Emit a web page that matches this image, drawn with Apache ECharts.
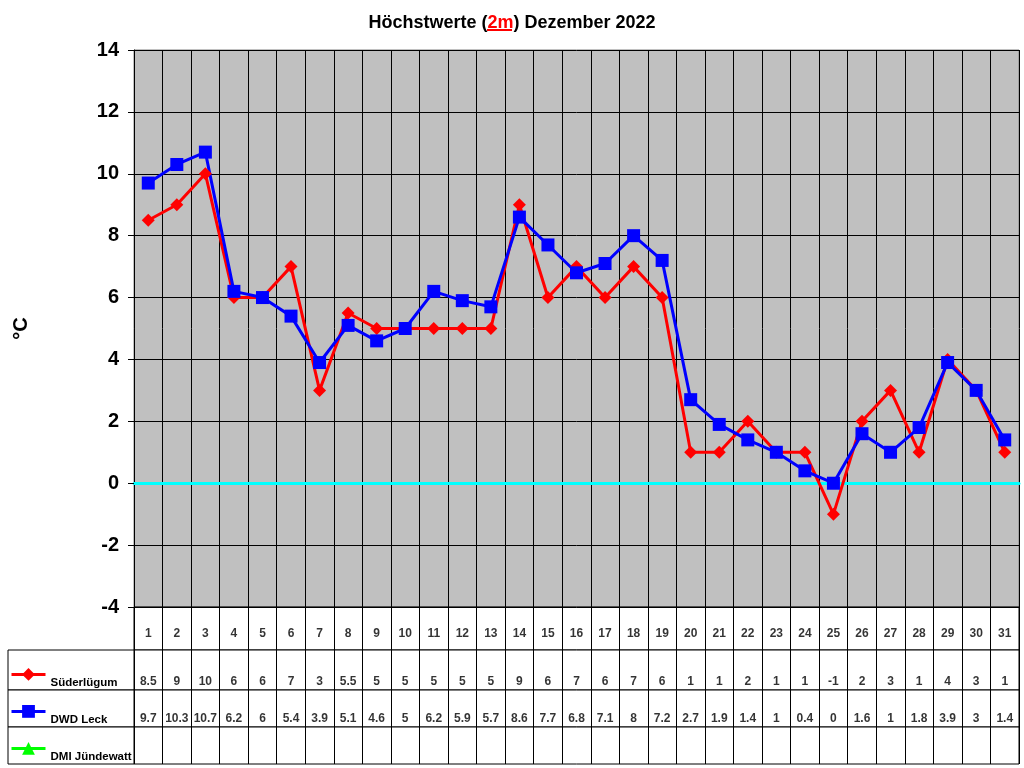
<!DOCTYPE html>
<html>
<head>
<meta charset="utf-8">
<script src="https://cdn.jsdelivr.net/npm/echarts@6/dist/echarts.min.js"></script>
<style>
  html, body { margin: 0; padding: 0; background: #fff; }
  #chart { width: 1024px; height: 768px; }
</style>
</head>
<body>
<div id="chart"></div>
<script>
  var days = ['1', '2', '3', '4', '5', '6', '7', '8', '9', '10', '11', '12', '13', '14', '15', '16',
    '17', '18', '19', '20', '21', '22', '23', '24', '25', '26', '27', '28', '29', '30', '31'];
  var suederluegum = [8.5, 9, 10, 6, 6, 7, 3, 5.5, 5, 5, 5, 5, 5, 9, 6, 7, 6, 7, 6, 1, 1, 2, 1, 1, -1, 2, 3, 1, 4, 3, 1];
  var dwdLeck = [9.7, 10.3, 10.7, 6.2, 6, 5.4, 3.9, 5.1, 4.6, 5, 6.2, 5.9, 5.7, 8.6, 7.7, 6.8, 7.1, 8, 7.2, 2.7, 1.9, 1.4, 1, 0.4, 0, 1.6, 1, 1.8, 3.9, 3, 1.4];
  var dmiJuendewatt = [null, null, null, null, null, null, null, null, null, null, null, null, null, null, null, null,
    null, null, null, null, null, null, null, null, null, null, null, null, null, null, null];
  var seriesNames = ['Süderlügum', 'DWD Leck', 'DMI Jündewatt'];
  var yTicks = { min: -4, max: 14, interval: 2 };

  var font = 'Liberation Sans, Arial, sans-serif';

  // zeilen der datentabelle
  var rows = [
    { top: 607, height: 43, values: days, dy: 5 },
    { top: 650, height: 40, values: suederluegum, dy: 12 },
    { top: 690, height: 37, values: dwdLeck, dy: 10 },
    { top: 727, height: 37, values: dmiJuendewatt, dy: 10 }
  ];

  var grids = [
    { left: 134, top: 50, width: 885, height: 557, show: true,
      backgroundColor: '#c0c0c0', borderColor: '#808080', borderWidth: 1 }
  ];
  var xAxes = [
    { type: 'category', gridIndex: 0, data: days,
      axisLine: { onZero: true, lineStyle: { color: '#00ffff', width: 3 } },
      axisTick: { show: false }, axisLabel: { show: false },
      splitLine: { show: true, interval: 0, lineStyle: { color: '#000', width: 1 } } }
  ];
  var yAxes = [
    { type: 'value', gridIndex: 0, min: yTicks.min, max: yTicks.max, interval: yTicks.interval,
      name: '°C', nameLocation: 'middle', nameGap: 103, nameRotate: 90,
      nameTextStyle: { fontFamily: font, fontWeight: 'bold', fontSize: 20, color: '#000' },
      axisLine: { show: true, lineStyle: { color: '#000', width: 1 } },
      axisTick: { show: true, length: 6, lineStyle: { color: '#000' } },
      axisLabel: { fontFamily: font, fontWeight: 'bold', fontSize: 20, color: '#000', margin: 15 },
      splitLine: { show: true, lineStyle: { color: '#000', width: 1 } } }
  ];

  var series = [
    { name: 'Süderlügum', type: 'line', data: suederluegum, xAxisIndex: 0, yAxisIndex: 0,
      symbol: 'diamond', symbolSize: 13, color: '#ff0000',
      lineStyle: { color: '#ff0000', width: 3 }, itemStyle: { color: '#ff0000' } },
    { name: 'DWD Leck', type: 'line', data: dwdLeck, xAxisIndex: 0, yAxisIndex: 0,
      symbol: 'rect', symbolSize: 13, color: '#0000ff',
      lineStyle: { color: '#0000ff', width: 3 }, itemStyle: { color: '#0000ff' } },
    { name: 'DMI Jündewatt', type: 'line', data: dmiJuendewatt, xAxisIndex: 0, yAxisIndex: 0,
      symbol: 'triangle', symbolSize: 13, color: '#00ff00',
      lineStyle: { color: '#00ff00', width: 3 }, itemStyle: { color: '#00ff00' } }
  ];

  var legends = [];

  rows.forEach(function (row, r) {
    var g = grids.length;
    grids.push({ left: 134, top: row.top, width: 885, height: row.height, show: true,
      backgroundColor: '#fff', borderColor: '#000', borderWidth: 1 });
    xAxes.push({ type: 'category', gridIndex: g, data: days,
      axisLine: { show: false }, axisTick: { show: false }, axisLabel: { show: false },
      splitLine: { show: true, interval: 0, lineStyle: { color: '#000', width: 1 } } });
    yAxes.push({ type: 'value', gridIndex: g, min: 0, max: 1, show: false });
    var data = [];
    for (var i = 0; i < days.length; i++) {
      data.push([i, 0.5, row.values[i] == null ? '' : String(row.values[i])]);
    }
    series.push({ type: 'scatter', xAxisIndex: g, yAxisIndex: g, symbolSize: 1, silent: true,
      itemStyle: { color: 'rgba(0,0,0,0)' },
      label: { show: true, position: 'inside', offset: [0, row.dy], color: '#000',
        fontFamily: font, fontWeight: 'bold', fontSize: 12,
        formatter: function (p) { return p.value[2]; } },
      data: data });
    // legendenspalte links
    if (r > 0) {
      var lg = grids.length;
      grids.push({ left: 8, top: row.top, width: 126, height: row.height, show: true,
        backgroundColor: '#fff', borderColor: '#000', borderWidth: 1 });
      xAxes.push({ type: 'value', gridIndex: lg, show: false });
      yAxes.push({ type: 'value', gridIndex: lg, show: false });
      legends.push({
        data: [seriesNames[r - 1]],
        left: 10,
        top: row.top + row.height - 22,
        padding: 0,
        itemWidth: 34,
        itemHeight: 16,
        lineStyle: { width: 3 },
        formatter: function (n) { return '{t|' + n + '}'; },
        textStyle: {
          fontFamily: font, fontWeight: 'bold', fontSize: 11.5, color: '#000',
          rich: { t: { fontFamily: font, fontWeight: 'bold', fontSize: 11.5, color: '#000',
            padding: [16, 0, 0, 0] } }
        }
      });
    }
  });

  var chart = echarts.init(document.getElementById('chart'));

  var option = {
    backgroundColor: '#fff',
    animation: false,
    title: {
      text: 'Höchstwerte ({r|2m}) Dezember 2022',
      left: 'center',
      top: 9,
      textStyle: {
        fontFamily: font,
        fontWeight: 'bold',
        fontSize: 18,
        color: '#000',
        rich: {
          r: { color: '#ff0000', fontFamily: font, fontWeight: 'bold', fontSize: 18 }
        }
      }
    },
    graphic: [{
      type: 'line',
      shape: { x1: 487, y1: 30, x2: 512, y2: 30 },
      style: { stroke: '#ff0000', lineWidth: 2 }
    }],
    legend: legends,
    grid: grids,
    xAxis: xAxes,
    yAxis: yAxes,
    series: series
  };

  chart.setOption(option);
</script>
</body>
</html>
